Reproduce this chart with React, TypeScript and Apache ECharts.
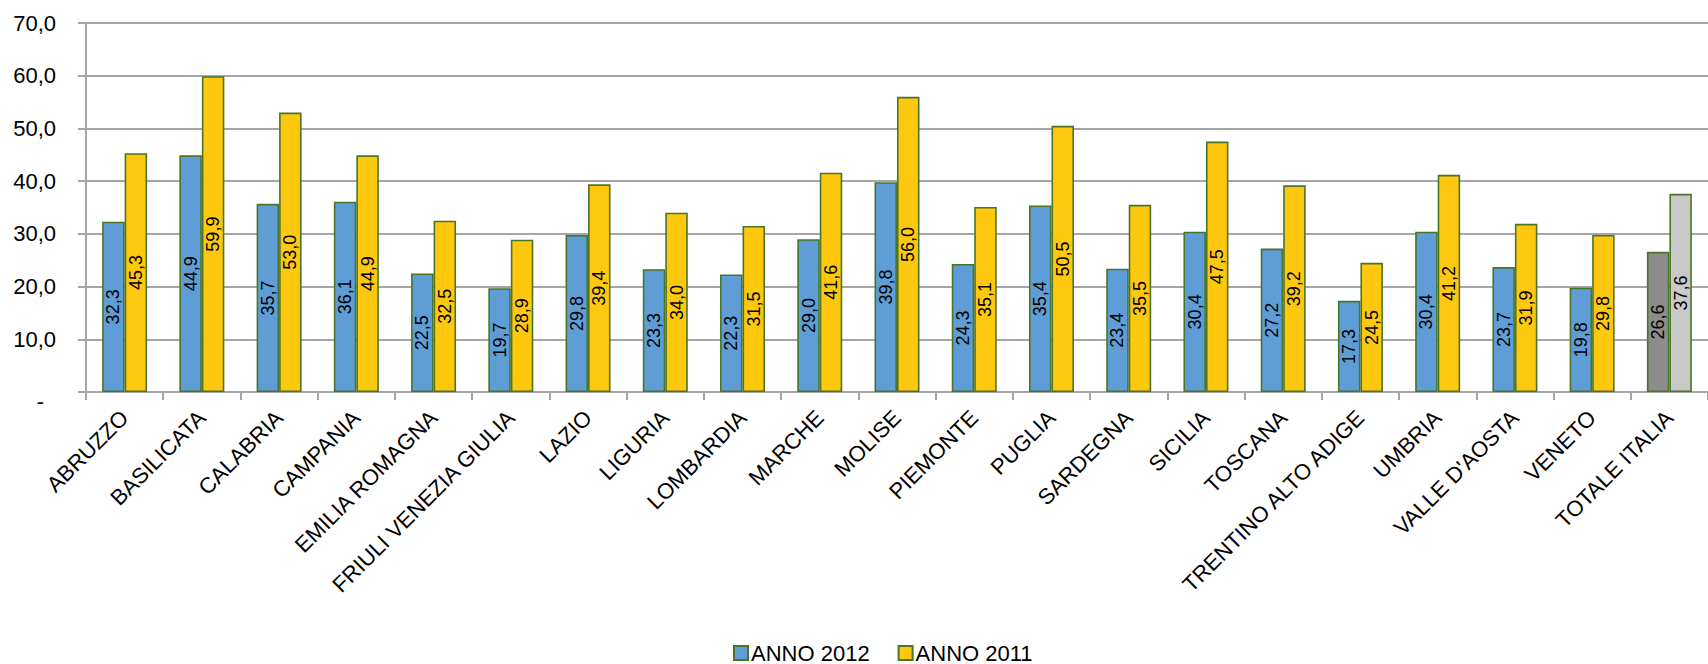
import React, { useEffect, useRef } from "react";
import * as echarts from "echarts";

const categories = [
  "ABRUZZO", "BASILICATA", "CALABRIA", "CAMPANIA", "EMILIA ROMAGNA",
  "FRIULI VENEZIA GIULIA", "LAZIO", "LIGURIA", "LOMBARDIA", "MARCHE",
  "MOLISE", "PIEMONTE", "PUGLIA", "SARDEGNA", "SICILIA", "TOSCANA",
  "TRENTINO ALTO ADIGE", "UMBRIA", "VALLE D'AOSTA", "VENETO", "TOTALE ITALIA",
];
const anno2012 = [32.3, 44.9, 35.7, 36.1, 22.5, 19.7, 29.8, 23.3, 22.3, 29.0, 39.8, 24.3, 35.4, 23.4, 30.4, 27.2, 17.3, 30.4, 23.7, 19.8, 26.6];
const anno2011 = [45.3, 59.9, 53.0, 44.9, 32.5, 28.9, 39.4, 34.0, 31.5, 41.6, 56.0, 35.1, 50.5, 35.5, 47.5, 39.2, 24.5, 41.2, 31.9, 29.8, 37.6];
const seriesNames = ["ANNO 2012", "ANNO 2011"];

const FONT = "Liberation Sans, Arial, sans-serif";
const BORDER = "#4a7526";
const BLUE = "#5f9dd6";
const YELLOW = "#fec80f";
const TOT2012 = "#8c8c8c";
const TOT2011 = "#c9c9c9";
const GRID = "#a6a6a6";

const fmt = (v: number) => v.toFixed(1).replace(".", ",");

export default function App() {
  const ref = useRef<HTMLDivElement>(null);
  useEffect(() => {
    if (!ref.current) return;
    const chart = echarts.init(ref.current, undefined, { renderer: "svg" });
    const lastIdx = categories.length - 1;
    const mkData = (vals: number[], totColor: string) =>
      vals.map((v, i) =>
        i === lastIdx ? { value: v, itemStyle: { color: totColor } } : v
      );
    const labelCfg = {
      show: true,
      position: "inside" as const,
      rotate: 90,
      fontFamily: FONT,
      fontSize: 18,
      color: "#000",
      formatter: (p: any) => fmt(p.value),
    };
    chart.setOption({
      animation: false,
      textStyle: { fontFamily: FONT },
      grid: { left: 86, top: 23, bottom: 272, right: -15, containLabel: false },
      legend: {
        left: 728,
        top: 637,
        icon: "rect",
        itemWidth: 14,
        itemHeight: 14,
        itemGap: 28,
        textStyle: { fontFamily: FONT, fontSize: 22, color: "#000", padding: [0, 0, 0, -2] },
        data: seriesNames,
      },
      xAxis: {
        type: "category",
        data: categories,
        boundaryGap: true,
        axisLine: { show: true, lineStyle: { color: GRID, width: 2 } },
        axisTick: { show: true, length: 8, alignWithLabel: false, lineStyle: { color: GRID, width: 2 } },
        axisLabel: {
          interval: 0,
          rotate: 45,
          margin: 22,
          fontFamily: FONT,
          fontSize: 22,
          color: "#000",
        },
      },
      yAxis: {
        type: "value",
        min: 0,
        max: 70,
        interval: 10,
        axisLine: { show: true, lineStyle: { color: GRID, width: 2 } },
        axisTick: { show: true, length: 8, lineStyle: { color: GRID, width: 2 } },
        splitLine: { show: true, lineStyle: { color: GRID, width: 2 } },
        axisLabel: {
          margin: 30,
          fontFamily: FONT,
          fontSize: 22,
          color: "#000",
          formatter: (v: number) => (v === 0 ? "{d|-}" : fmt(v)),
          rich: {
            d: { fontFamily: FONT, fontSize: 22, color: "#000", padding: [18, 12, 0, 0] },
          },
        },
      },
      series: [
        {
          name: seriesNames[0],
          type: "bar",
          barWidth: 22.5,
          barGap: "0%",
          data: mkData(anno2012, TOT2012),
          itemStyle: { color: BLUE, borderColor: BORDER, borderWidth: 1.6 },
          label: labelCfg,
        },
        {
          name: seriesNames[1],
          type: "bar",
          barWidth: 22.5,
          barGap: "0%",
          data: mkData(anno2011, TOT2011),
          itemStyle: { color: YELLOW, borderColor: BORDER, borderWidth: 1.6 },
          label: labelCfg,
        },
      ],
    });
    return () => chart.dispose();
  }, []);
  return (
    <div
      ref={ref}
      style={{ position: "fixed", left: 0, top: 0, width: 1708, height: 664, background: "#fff" }}
    />
  );
}
